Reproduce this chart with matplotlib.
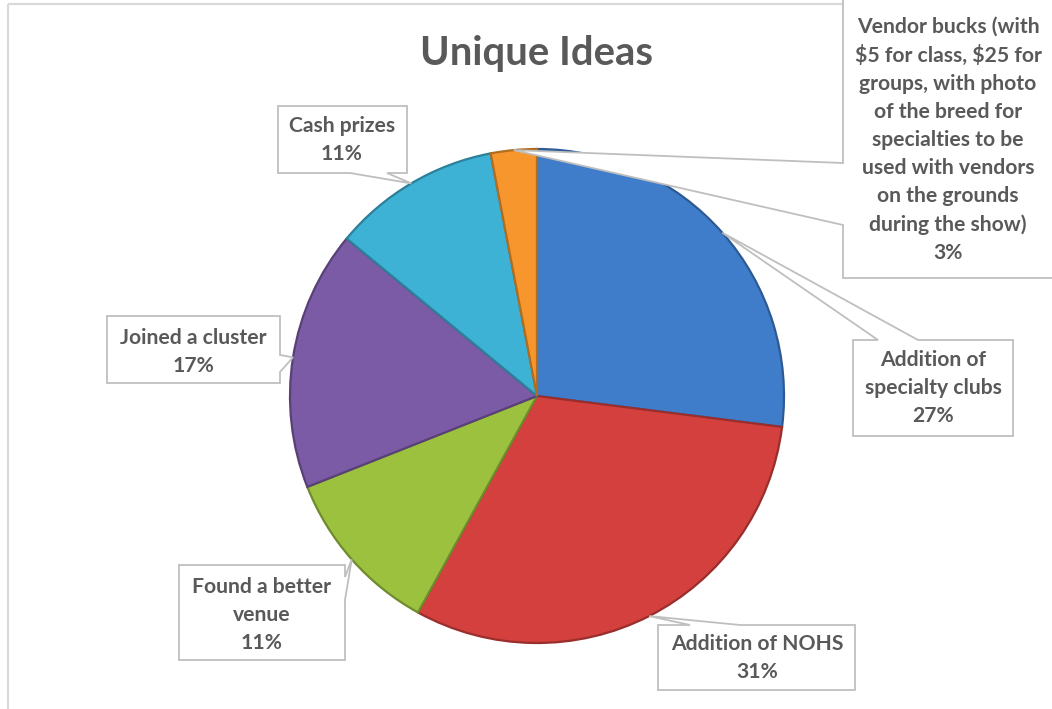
import numpy as np
import matplotlib.pyplot as plt
import matplotlib.colors as mcolors
from matplotlib.patches import Polygon, Rectangle

# data (clockwise from 12 o'clock)
names = ['Addition of\nspecialty clubs', 'Addition of NOHS', 'Found a better\nvenue',
         'Joined a cluster', 'Cash prizes',
         'Vendor bucks (with\n$5 for class, $25 for\ngroups, with photo\nof the breed for\n'
         'specialties to be\nused with vendors\non the grounds\nduring the show)']
values = [27, 31, 11, 17, 11, 3]
colors = ['#3F7DCB', '#D4403D', '#9BC13F', '#7B5AA6', '#3DB2D4', '#F7962D']

# layout (pixel coords, y down)
W, H = 1052, 709
cx, cy, R = 537, 396, 247
boxes = [(853, 340, 1013, 436), (658, 625, 855, 690), (179, 565, 345, 660),
         (107, 316, 280, 383), (278, 106, 407, 173), (843, -20, 1058, 278)]
sides = ['top', 'top', 'right', 'right', 'bottom', 'left']
bases = [(878, 918), (690, 740), (577, 600), (355, 372), (350, 387), (163, 225)]
text_xy = [(933, 388), (757, 658), (262, 615), (193.5, 351.5), (342, 140), (948, 139.5)]

plt.rcParams['font.family'] = ['Lato', 'DejaVu Sans']
TXT = '#595959'
GRAY = '#BFBFBF'

fig = plt.figure(figsize=(W / 100, H / 100), dpi=100)
ax = fig.add_axes([0, 0, 1, 1])

edge_cols = [tuple(np.array(mcolors.to_rgb(c)) * 0.72) for c in colors]
wedges, _ = ax.pie(values, colors=colors, startangle=-90, counterclock=True,
                   center=(cx, cy), radius=R,
                   wedgeprops=dict(linewidth=1.6))
for w, ec in zip(wedges, edge_cols):
    w.set_edgecolor(ec)

ax.set_xlim(0, W)
ax.set_ylim(H, 0)
ax.set_aspect('equal')
ax.axis('off')

# chart frame
ax.add_patch(Rectangle((8, 4), W, H, fill=False, edgecolor='#D9D9D9', lw=1.5, zorder=1))


def callout(box, side, base, tip):
    x0, y0, x1, y1 = box
    a, b = base
    if side == 'top':
        pts = [(x0, y0), (a, y0), tip, (b, y0), (x1, y0), (x1, y1), (x0, y1)]
    elif side == 'right':
        pts = [(x0, y0), (x1, y0), (x1, a), tip, (x1, b), (x1, y1), (x0, y1)]
    elif side == 'bottom':
        pts = [(x0, y0), (x1, y0), (x1, y1), (b, y1), tip, (a, y1), (x0, y1)]
    else:
        pts = [(x0, y0), (x1, y0), (x1, y1), (x0, y1), (x0, b), tip, (x0, a)]
    ax.add_patch(Polygon(pts, closed=True, facecolor='white', edgecolor=GRAY,
                         lw=1.3, zorder=3))


total = sum(values)
cum = np.cumsum([0] + values[:-1])
for i, v in enumerate(values):
    theta = np.deg2rad((cum[i] + v / 2) / total * 360)
    tip = (cx + R * np.sin(theta), cy - R * np.cos(theta))
    callout(boxes[i], sides[i], bases[i], tip)
    ax.text(text_xy[i][0], text_xy[i][1], f'{names[i]}\n{v}%', ha='center', va='center',
            multialignment='center', fontsize=15.2, fontweight='bold', color=TXT,
            linespacing=1.5, parse_math=False, zorder=4)

ax.text(cx, 53, 'Unique Ideas', ha='center', va='center', fontsize=28.8,
        fontweight='bold', color=TXT)

fig.savefig('out.png', dpi=100)
